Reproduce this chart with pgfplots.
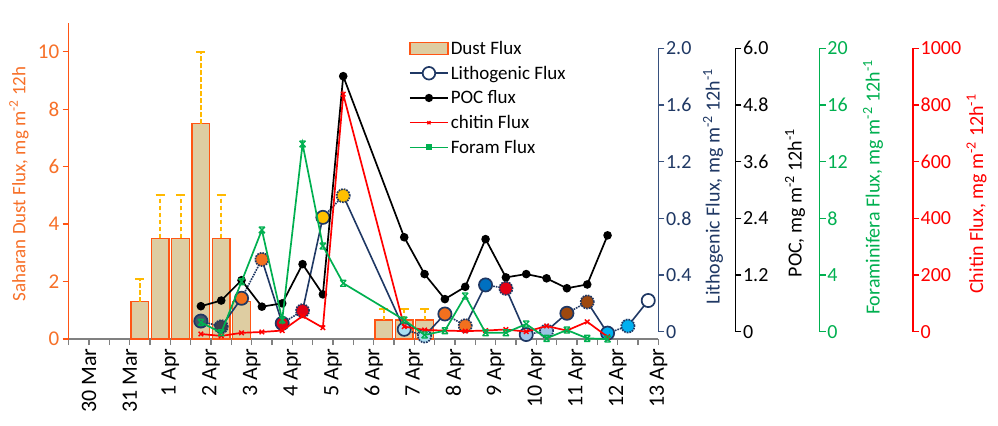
\documentclass[border=0pt]{standalone}
\usepackage{pgfplots}
\pgfplotsset{compat=1.18}
\usepackage{fontspec}
\setmainfont{Carlito}
\usetikzlibrary{plotmarks}
\newcommand{\fs}[1]{\fontsize{#1bp}{#1bp}\selectfont}

\definecolor{dustfill}{RGB}{222,205,162}
\definecolor{dustedge}{RGB}{255,85,20}
\definecolor{dusttext}{RGB}{247,112,40}
\definecolor{errcol}{RGB}{255,185,0}
\definecolor{navy}{RGB}{31,56,100}
\definecolor{navyaxis}{RGB}{55,80,125}
\definecolor{foram}{RGB}{0,176,80}
\definecolor{chitin}{RGB}{255,0,0}
\definecolor{cslate}{RGB}{68,84,106}
\definecolor{cslateb}{RGB}{62,62,78}
\definecolor{corange}{RGB}{242,112,30}
\definecolor{cred}{RGB}{228,0,20}
\definecolor{cgold}{RGB}{255,192,0}
\definecolor{cpale}{RGB}{170,222,240}
\definecolor{cblue}{RGB}{0,112,192}
\definecolor{clight}{RGB}{157,195,230}
\definecolor{cbrown}{RGB}{158,72,14}
\definecolor{ccyan}{RGB}{0,176,240}

\pgfdeclareplotmark{hourglass}{%
  \pgfpathmoveto{\pgfqpoint{-\pgfplotmarksize}{\pgfplotmarksize}}%
  \pgfpathlineto{\pgfqpoint{\pgfplotmarksize}{-\pgfplotmarksize}}%
  \pgfpathmoveto{\pgfqpoint{-\pgfplotmarksize}{-\pgfplotmarksize}}%
  \pgfpathlineto{\pgfqpoint{\pgfplotmarksize}{\pgfplotmarksize}}%
  \pgfpathmoveto{\pgfqpoint{-\pgfplotmarksize}{\pgfplotmarksize}}%
  \pgfpathlineto{\pgfqpoint{\pgfplotmarksize}{\pgfplotmarksize}}%
  \pgfpathmoveto{\pgfqpoint{-\pgfplotmarksize}{-\pgfplotmarksize}}%
  \pgfpathlineto{\pgfqpoint{\pgfplotmarksize}{-\pgfplotmarksize}}%
  \pgfusepathqstroke
}

\pgfplotsset{
  /pgf/number format/assume math mode=true,
  base/.style={scale only axis, width=589.7bp, xmin=0, xmax=29, clip=false,
    anchor=south west, tick align=outside, major tick length=6bp, minor tick length=6bp},
  rightaxis/.style={base, at={(68.7bp,94.3bp)}, height=283.4bp, ymin=0,
    axis x line=none, axis y line*=right,
    y axis line style={#1, line width=1.2bp, -},
    every y tick/.append style={#1, line width=1.2bp},
    yticklabel style={#1, font=\fs{20}, anchor=west, inner sep=1.5bp}},
}

\begin{document}
\begin{tikzpicture}
\useasboundingbox (0,0) rectangle (998bp,426bp);
\fill[white] (0,0) rectangle (998bp,426bp);

% ---------------- Dust (left axis, with x axis)
\begin{axis}[base, at={(68.7bp,87bp)}, height=316bp, ymin=0, ymax=11,
  axis x line*=bottom, axis y line*=left,
  x axis line style={draw=black!50, line width=1.6bp, -},
  y axis line style={draw=dustedge, line width=1.3bp, -},
  xtick={1,3,...,29}, minor xtick={0,2,...,28},
  xticklabels={30 Mar,31 Mar,1 Apr,2 Apr,3 Apr,4 Apr,5 Apr,6 Apr,7 Apr,8 Apr,9 Apr,10 Apr,11 Apr,12 Apr,13 Apr},
  every x tick/.append style={draw=black!50, line width=1.2bp},
  every y tick/.append style={draw=dustedge, line width=1.2bp},
  xticklabel style={rotate=90, anchor=east, font=\fs{22}},
  ytick={0,2,4,6,8,10},
  yticklabel style={text=dusttext, font=\fs{21}}]
\addplot[ybar, bar width=0.87, bar shift=0pt, fill=dustfill, draw=dustedge, line width=1.3bp,
  error bars/.cd, y dir=plus, y explicit,
  error bar style={draw=errcol, solid, dash pattern=on 4.5bp off 2.5bp, line width=2bp},
  error mark=-, error mark options={rotate=90, draw=errcol, solid, line width=2bp, mark size=4.5bp}]
  coordinates {(3.5,1.3) +- (0,0.78) (4.5,3.5) +- (0,1.5) (5.5,3.5) +- (0,1.5)
               (6.5,7.5) +- (0,2.5) (7.5,3.5) +- (0,1.5)
               (15.5,0.66) +- (0,0.37) (16.5,0.66) +- (0,0.37) (17.5,0.66) +- (0,0.37)};
\addplot[ybar, bar width=0.87, bar shift=0pt, fill=dustfill, draw=dustedge, line width=1.3bp, forget plot]
  coordinates {(8.5,1.3)};
\end{axis}

% ---------------- Lithogenic
\begin{axis}[rightaxis=navyaxis, ymax=2, ytick={0,0.4,0.8,1.2,1.6,2},
  yticklabels={0,0.4,0.8,1.2,1.6,2.0}, yticklabel style={text=navy}]
\addplot[navy, line width=1.6bp, unbounded coords=jump, no marks] coordinates {
  (7.5,0.035)(8.5,0.236)(9,nan)(9.5,0.51)(10.5,0.059)(11,nan)(11.5,0.148)(12.5,0.807)(13,nan)
  (13.5,0.96)(16.5,0.017)(17,nan)(17.5,-0.03)(18.5,0.125)(19,nan)(19.5,0.042)(20.5,0.33)(21,nan)
  (21.5,0.306)(22.5,-0.02)(23,nan)(23.5,0.005)(24.5,0.13)(25,nan)(25.5,0.21)(26.5,-0.01)(27,nan)
  (27.5,0.04)(28.5,0.22)};
\addplot[navy, line width=1.6bp, densely dotted, unbounded coords=jump, no marks] coordinates {
  (6.5,0.075)(7.5,0.035)(8,nan)(8.5,0.236)(9.5,0.51)(10,nan)(10.5,0.059)(11.5,0.148)(12,nan)
  (12.5,0.807)(13.5,0.96)(14,nan)(16.5,0.017)(17.5,-0.03)(18,nan)(18.5,0.125)(19.5,0.042)(20,nan)
  (20.5,0.33)(21.5,0.306)(22,nan)(22.5,-0.02)(23.5,0.005)(24,nan)(24.5,0.13)(25.5,0.21)(26,nan)
  (26.5,-0.01)(27.5,0.04)};
\addplot[scatter, only marks, mark=*, mark size=6.6bp, scatter src=explicit symbolic,
  scatter/classes={
    sa={mark=*, fill=cslate, draw=navy, line width=1.7bp},
    sb={mark=*, fill=cslateb, draw=navy, line width=1.7bp, densely dotted},
    oa={mark=*, fill=corange, draw=navy, line width=1.7bp},
    ob={mark=*, fill=corange, draw=navy, line width=1.7bp, densely dotted},
    ra={mark=*, fill=cred, draw=navy, line width=1.7bp},
    rb={mark=*, fill=cred, draw=navy, line width=1.7bp, densely dotted},
    ya={mark=*, fill=cgold, draw=navy, line width=1.7bp},
    yb={mark=*, fill=cgold, draw=navy, line width=1.7bp, densely dotted},
    pa={mark=*, fill=cpale, draw=navy, line width=1.7bp},
    pb={mark=*, fill=cpale, draw=navy, line width=1.7bp, densely dotted},
    ba={mark=*, fill=cblue, draw=navy, line width=1.7bp},
    la={mark=*, fill=clight, draw=navy, line width=1.7bp},
    lb={mark=*, fill=clight, draw=navy, line width=1.7bp, densely dotted},
    na={mark=*, fill=cbrown, draw=navy, line width=1.7bp},
    nb={mark=*, fill=cbrown, draw=navy, line width=1.7bp, densely dotted},
    ca={mark=*, fill=ccyan, draw=navy, line width=1.7bp},
    cb={mark=*, fill=ccyan, draw=navy, line width=1.7bp, densely dotted},
    wa={mark=*, fill=white, draw=navy, line width=1.7bp}}]
  table[meta=cls] {
x y cls
6.5 0.075 sa
7.5 0.035 sb
8.5 0.236 oa
9.5 0.51 ob
10.5 0.059 ra
11.5 0.148 rb
12.5 0.807 ya
13.5 0.96 yb
16.5 0.017 pa
17.5 -0.03 pb
18.5 0.125 oa
19.5 0.042 ob
20.5 0.33 ba
21.5 0.306 rb
22.5 -0.02 la
23.5 0.005 lb
24.5 0.13 na
25.5 0.21 nb
26.5 -0.01 ca
27.5 0.04 cb
28.5 0.22 wa
};
\end{axis}

% ---------------- POC
\begin{axis}[rightaxis=black, ymax=6, ytick={0,1.2,2.4,3.6,4.8,6},
  yticklabels={0,1.2,2.4,3.6,4.8,6.0},
  y axis line style={xshift=77bp}, every y tick/.append style={xshift=77bp},
  yticklabel style={xshift=77bp}]
\addplot[black, line width=1.7bp, mark=*, mark size=3.4bp] coordinates {
  (6.5,0.54)(7.5,0.66)(8.5,1.09)(9.5,0.53)(10.5,0.60)(11.5,1.43)(12.5,0.79)(13.5,5.41)
  (16.5,2.00)(17.5,1.22)(18.5,0.69)(19.5,0.95)(20.5,1.96)(21.5,1.15)(22.5,1.22)(23.5,1.13)
  (24.5,0.92)(25.5,1.00)(26.5,2.04)};
\end{axis}

% ---------------- Chitin
\begin{axis}[rightaxis=chitin, ymax=1000, ytick={0,200,400,600,800,1000},
  yticklabels={0,200,400,600,800,1000},
  y axis line style={xshift=254.6bp}, every y tick/.append style={xshift=254.6bp},
  yticklabel style={xshift=254.6bp}]
\addplot[chitin, line width=1.7bp, mark=x, mark size=3.2bp, mark options={line width=1.4bp}] coordinates {
  (6.5,-8)(7.5,-15)(8.5,-4)(9.5,-1)(10.5,4)(11.5,55)(12.5,14)(13.5,838)
  (16.5,18)(17.5,6)(18.5,4)(19.5,2)(20.5,4)(21.5,8)(22.5,0)(23.5,20)(24.5,4)(25.5,35)(26.5,-18)};
\end{axis}

% ---------------- Foram (and legend)
\begin{axis}[rightaxis=foram, ymax=20, ytick={0,4,8,12,16,20},
  yticklabels={0,4,8,12,16,20},
  y axis line style={xshift=161.3bp}, every y tick/.append style={xshift=161.3bp},
  yticklabel style={xshift=161.3bp},
  legend image code/.code={\draw[mark repeat=2,mark phase=2,#1] plot coordinates {(0bp,0bp) (19bp,0bp) (38bp,0bp)};},
  legend style={at={(axis description cs:0.577,1.033)}, anchor=north west, draw=none, fill=none,
    font=\fs{19}, inner sep=0pt, row sep=6.1bp,
    /tikz/every even column/.append style={column sep=2bp}},
  legend cell align=left]
\addplot[foram, line width=1.7bp, mark=hourglass, mark size=3bp, mark options={line width=1.3bp}, forget plot] coordinates {
  (6.5,0.66)(7.5,-0.07)(8.5,3.53)(9.5,7.18)(10.5,0.83)(11.5,13.25)(12.5,6.05)(13.5,3.42)
  (16.5,0.83)(17.5,-0.23)(18.5,0.07)(19.5,2.52)(20.5,-0.07)(21.5,-0.07)(22.5,0.54)(23.5,-0.47)
  (24.5,0.12)(25.5,-0.47)(26.5,-0.52)};
\addlegendimage{legend image code/.code={\draw[fill=dustfill, draw=dustedge, line width=1.5bp] (0bp,-6bp) rectangle (38bp,6bp);}}
\addlegendentry{Dust Flux}
\addlegendimage{navy, line width=1.6bp, mark=*, mark size=6.3bp, mark options={fill=white, draw=navy, line width=1.7bp}}
\addlegendentry{Lithogenic Flux}
\addlegendimage{black, line width=1.6bp, mark=*, mark size=3.3bp}
\addlegendentry{POC flux}
\addlegendimage{chitin, line width=1.6bp, mark=x, mark size=2.2bp, mark options={line width=1.3bp}}
\addlegendentry{chitin Flux}
\addlegendimage{foram, line width=1.6bp, mark=square*, mark size=2.2bp}
\addlegendentry{Foram Flux}
\end{axis}

% ---------------- axis titles
\node[rotate=90, text=dusttext, font=\fs{19}] at (19bp,242bp) {Saharan Dust Flux, mg m\textsuperscript{-2} 12h};
\node[rotate=90, text=navy, font=\fs{20}] at (713bp,239.5bp) {Lithogenic Flux, mg m\textsuperscript{-2} 12h\textsuperscript{-1}};
\node[rotate=90, text=black, font=\fs{20}] at (795bp,223bp) {POC, mg m\textsuperscript{-2} 12h\textsuperscript{-1}};
\node[rotate=90, text=foram, font=\fs{20}] at (873bp,238.5bp) {Foraminifera Flux, mg m\textsuperscript{-2} 12h\textsuperscript{-1}};
\node[rotate=90, text=chitin, font=\fs{20}] at (976.5bp,232bp) {Chitin Flux, mg m\textsuperscript{-2} 12h\textsuperscript{-1}};
\end{tikzpicture}
\end{document}
